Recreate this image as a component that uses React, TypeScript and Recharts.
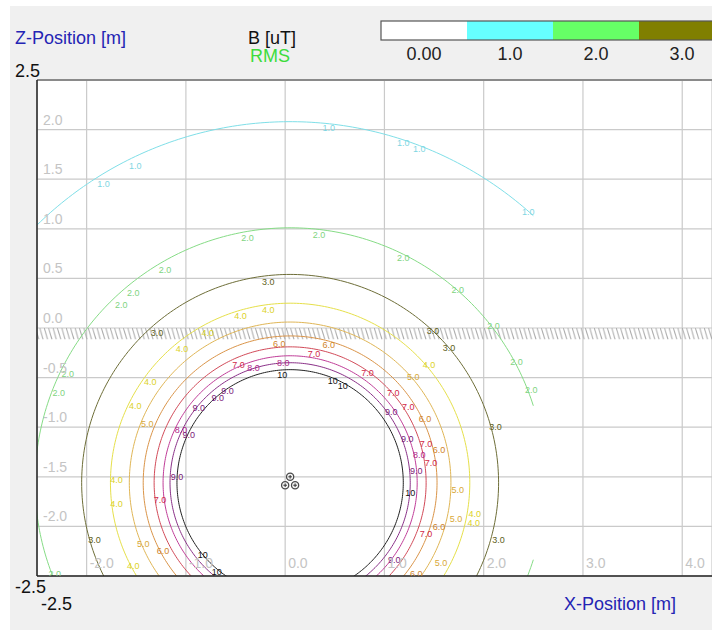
import React from 'react';
import {
  ComposedChart,
  Line,
  Scatter,
  XAxis,
  YAxis,
  CartesianGrid,
  ReferenceLine,
  ReferenceArea,
  Customized,
} from 'recharts';

// ---------------- data ----------------
const xTicks = [-2, -1, 0, 1, 2, 3, 4];
const zTicks = [-2, -1.5, -1, -0.5, 0, 0.5, 1, 1.5, 2];
const xDomain: [number, number] = [-2.5, 4.3];
const zDomain: [number, number] = [-2.5, 2.5];
const xMinLabel = '-2.5';
const zMinLabel = '-2.5';
const zMaxLabel = '2.5';

const levels = [1, 2, 3, 4, 5, 6, 7, 8, 9, 10];
const levelText = ['1.0', '2.0', '3.0', '4.0', '5.0', '6.0', '7.0', '8.0', '9.0', '10'];
// contour radius (m), around the cable group
const contourRadius = [3.64, 2.57, 2.1, 1.81, 1.62, 1.48, 1.37, 1.28, 1.21, 1.14];
const contourCenter = { x: 0.05, z: -1.56 };
// right border of the computed area
const calcXMax = 2.5;
// ground surface
const groundTop = 0;
const groundBottom = -0.115;

const cables = [
  { x: 0.05, z: -1.5 },
  { x: 0.0, z: -1.585 },
  { x: 0.1, z: -1.585 },
];

const legendValues = ['0.00', '1.0', '2.0', '3.0'];

// contour label positions [x, z]
const labels1 = [[-1.51, 1.63], [-1.83, 1.45], [0.44, 2.02], [1.19, 1.86], [1.35, 1.8], [2.45, 1.17]];
const labels2 = [[-0.38, 0.91], [0.34, 0.94], [-1.21, 0.58], [-1.53, 0.35], [-1.65, 0.23], [1.19, 0.71], [1.74, 0.38], [2.1, 0.02], [2.33, -0.34], [2.48, -0.62], [-2.19, -0.46], [-2.28, -0.66], [-2.32, -2.48]];
const labels3 = [[-0.17, 0.46], [-1.29, -0.05], [1.49, -0.03], [1.65, -0.2], [2.12, -1.0], [2.15, -2.14], [-1.92, -2.14]];
const labels4 = [[-0.45, 0.12], [-0.17, 0.18], [-0.78, -0.05], [-1.04, -0.21], [-1.36, -0.54], [-1.51, -0.79], [-1.7, -1.53], [-1.7, -1.77], [-1.53, -2.4], [1.45, -0.37], [1.91, -1.88], [1.9, -1.97]];
const labels5 = [[-1.39, -0.97], [-1.43, -2.18], [1.29, -0.49], [1.74, -1.63], [1.72, -1.93], [1.57, -2.37]];
const labels6 = [[-0.06, -0.16], [0.44, -0.17], [-1.23, -2.25], [1.41, -0.92], [1.55, -1.23], [1.55, -2.01], [1.32, -2.48]];
const labels7 = [[0.29, -0.26], [-0.47, -0.37], [-1.26, -1.73], [0.83, -0.45], [1.09, -0.66], [1.24, -0.8], [1.42, -1.17], [1.47, -1.36], [1.42, -2.08]];
const labels8 = [[-0.02, -0.35], [-0.32, -0.4], [-1.05, -1.03], [1.35, -1.28]];
const labels9 = [[-0.58, -0.64], [-0.68, -0.71], [-0.87, -0.81], [-0.97, -1.08], [-1.09, -1.5], [1.07, -0.85], [1.23, -1.12], [1.32, -1.44], [1.1, -2.34]];
const labels10 = [[-0.03, -0.47], [0.48, -0.53], [0.58, -0.58], [1.26, -1.66], [-0.83, -2.29], [-0.69, -2.46]];
const contourLabels = [labels1, labels2, labels3, labels4, labels5, labels6, labels7, labels8, labels9, labels10];

// ---------------- styles ----------------
const W = 712;
const H = 630;
const PLOT_LEFT = 37;
const PLOT_TOP = 80;
const PLOT_BOTTOM = 576;
// axes take 1px each, so margins are one less
const M = { top: PLOT_TOP, right: 0, bottom: H - PLOT_BOTTOM - 1, left: PLOT_LEFT - 1 };
const FONT = '"Liberation Sans", Arial, sans-serif';
const lineColors = ['#7fdfe8', '#86dc86', '#6e6e38', '#e6e04a', '#e0b656', '#da9448', '#d24a58', '#c03c98', '#8a3088', '#222222'];
const textColors = ['#7fd6e2', '#7fd47f', '#5e5e20', '#dcd228', '#d8a838', '#d0842a', '#d02848', '#b0288a', '#7a2078', '#111111'];
const legendColors = ['#ffffff', '#66ffff', '#66ff66', '#807f00'];
const gridColor = '#cacaca';
const tickColor = '#c4c4c4';

function arcPoints(r: number) {
  const cx = contourCenter.x;
  const cz = contourCenter.z;
  const lim = (calcXMax - cx) / r;
  const t1 = lim >= 1 ? 0 : Math.acos(lim);
  const t2 = 2 * Math.PI - t1;
  const n = 360;
  const pts: { x: number; z: number }[] = [];
  for (let i = 0; i <= n; i++) {
    const t = t1 + ((t2 - t1) * i) / n;
    pts.push({ x: cx + r * Math.cos(t), z: cz + r * Math.sin(t) });
  }
  return pts;
}

const contourData = levels.map((lv, i) => ({ level: lv, idx: i, points: arcPoints(contourRadius[i]) }));
const labelData = contourLabels.flatMap((arr, i) => arr.map(([x, z]) => ({ x, z, idx: i })));

const XTick = (props: any) => {
  const { x, payload } = props;
  return (
    <text x={x + 3} y={PLOT_BOTTOM - 8} fill={tickColor} fontSize={14} fontFamily={FONT} textAnchor="start">
      {Number(payload.value).toFixed(1)}
    </text>
  );
};

const YTick = (props: any) => {
  const { y, payload } = props;
  return (
    <text x={PLOT_LEFT + 6} y={y - 5} fill={tickColor} fontSize={14} fontFamily={FONT} textAnchor="start">
      {Number(payload.value).toFixed(1)}
    </text>
  );
};

const LabelShape = (props: any) => {
  const { cx, cy, payload } = props;
  if (cx == null || cy == null) return null;
  return (
    <text
      x={cx}
      y={cy}
      fill={textColors[payload.idx]}
      fontSize={9}
      fontFamily={FONT}
      textAnchor="middle"
      dominantBaseline="central"
    >
      {levelText[payload.idx]}
    </text>
  );
};

const CableShape = (props: any) => {
  const { cx, cy } = props;
  if (cx == null || cy == null) return null;
  return (
    <g>
      <circle cx={cx} cy={cy} r={3.6} fill="#f4f4f4" stroke="#4a4a4a" strokeWidth={1.3} />
      <line x1={cx - 1.8} y1={cy} x2={cx + 1.8} y2={cy} stroke="#333" strokeWidth={1} />
      <line x1={cx} y1={cy - 1.8} x2={cx} y2={cy + 1.8} stroke="#333" strokeWidth={1} />
    </g>
  );
};

const Decor = () => {
  const bx = 381;
  const by = 21;
  const bw = 86;
  const bh = 19;
  return (
    <g fontFamily={FONT}>
      <defs>
        <pattern id="hatch" patternUnits="userSpaceOnUse" x={0} y={328} width={4.4} height={60}>
          <line x1={0.2} y1={0} x2={3.6} y2={11.5} stroke="#a9a9a9" strokeWidth={1} />
        </pattern>
      </defs>
      <text x={15} y={44} fontSize={18} fill="#2424b4">Z-Position [m]</text>
      <text x={15} y={77} fontSize={18} fill="#111">{zMaxLabel}</text>
      <text x={15} y={593} fontSize={18} fill="#111">{zMinLabel}</text>
      <text x={41} y={610} fontSize={18} fill="#111">{xMinLabel}</text>
      <text x={564} y={610} fontSize={18} fill="#2424b4">X-Position [m]</text>
      <text x={248} y={44} fontSize={18} fill="#111">B [uT]</text>
      <text x={250} y={62} fontSize={18} fill="#3ddc3d">RMS</text>
      {legendValues.map((v, i) => (
        <g key={v}>
          <rect x={bx + i * bw} y={by} width={bw} height={bh} fill={legendColors[i]} />
          <text x={bx + i * bw + bw / 2} y={60} fontSize={18} fill="#222" textAnchor="middle">
            {v}
          </text>
        </g>
      ))}
      <rect x={bx} y={by} width={W - bx + 20} height={bh} fill="none" stroke="#555" strokeWidth={1.2} />
    </g>
  );
};

export default function App() {
  return (
    <div style={{ position: 'fixed', left: 0, top: 0, width: W, height: H, background: '#fff', overflow: 'hidden' }}>
      <div style={{ position: 'absolute', left: 10, top: 6, width: W - 10, height: H - 6, background: '#f0f0f0' }} />
      <div
        style={{
          position: 'absolute',
          left: PLOT_LEFT,
          top: PLOT_TOP,
          width: W - PLOT_LEFT,
          height: PLOT_BOTTOM - PLOT_TOP,
          background: '#ffffff',
        }}
      />
      <div style={{ position: 'absolute', left: 0, top: 0 }}>
        <ComposedChart width={W} height={H} margin={M}>
          <CartesianGrid stroke={gridColor} strokeWidth={1.2} />
          <XAxis
            type="number"
            dataKey="x"
            domain={xDomain}
            ticks={xTicks}
            interval={0}
            allowDataOverflow
            height={1}
            axisLine={false}
            tickLine={false}
            tickSize={0}
            tickMargin={0}
            tick={<XTick />}
          />
          <YAxis
            type="number"
            dataKey="z"
            domain={zDomain}
            ticks={zTicks}
            interval={0}
            allowDataOverflow
            width={1}
            axisLine={false}
            tickLine={false}
            tickSize={0}
            tickMargin={0}
            tick={<YTick />}
          />
          <Customized component={<Decor />} />
          <ReferenceArea
            x1={xDomain[0]}
            x2={xDomain[1]}
            y1={groundBottom}
            y2={groundTop}
            fill="url(#hatch)"
            fillOpacity={1}
            stroke="none"
            ifOverflow="visible"
          />
          {contourData.map((c) => (
            <Line
              key={c.level}
              data={c.points}
              dataKey="z"
              type="linear"
              stroke={lineColors[c.idx]}
              strokeWidth={1}
              dot={false}
              activeDot={false}
              isAnimationActive={false}
              legendType="none"
            />
          ))}
          <Scatter data={labelData} dataKey="z" shape={<LabelShape />} isAnimationActive={false} legendType="none" />
          <Scatter data={cables} dataKey="z" shape={<CableShape />} isAnimationActive={false} legendType="none" />
          <ReferenceLine y={zDomain[1]} stroke="#8a8a8a" strokeWidth={2} ifOverflow="visible" />
          <ReferenceLine x={xDomain[0]} stroke="#222" strokeWidth={1.5} ifOverflow="visible" />
          <ReferenceLine y={zDomain[0]} stroke="#222" strokeWidth={1.5} ifOverflow="visible" />
        </ComposedChart>
      </div>
    </div>
  );
}
